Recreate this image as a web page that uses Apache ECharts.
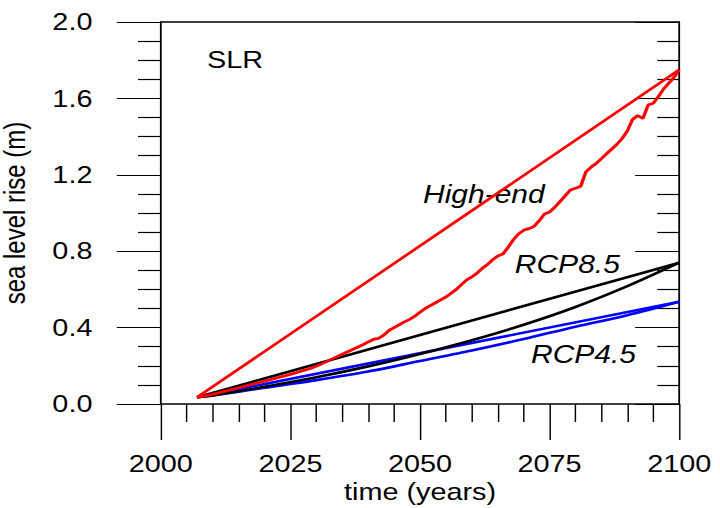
<!DOCTYPE html>
<html>
<head>
<meta charset="utf-8">
<script src="https://cdn.jsdelivr.net/npm/echarts@6/dist/echarts.min.js"></script>
<style>
html,body{margin:0;padding:0;background:#fff;overflow:hidden;}
#main{width:600px;height:508px;transform:scaleX(1.2);transform-origin:0 0;}
</style>
</head>
<body>
<div id="main"></div>
<script>
// ---- data ----
const xTicks = [2000, 2025, 2050, 2075, 2100];
const yTicks = [0.0, 0.4, 0.8, 1.2, 1.6, 2.0];

const highEndYears = [2007, 2100];
const highEnd = [0.035, 1.75];

const rcp85RedYears = [2007,2010,2015,2020,2025,2029,2031,2033,2035,2037,2039,2040,2041,2042,2043,2044,2045,2046,2047,2048,2049,2050,2051,2052,2053,2054,2055,2056,2057,2058,2059,2060,2061,2062,2063,2064,2065,2066,2067,2068,2069,2070,2071,2072,2073,2074,2075,2076,2077,2078,2079,2080,2081,2082,2083,2084,2085,2086,2087,2088,2089,2090,2091,2092,2093,2094,2095,2096,2097,2098,2099,2100];
const rcp85Red = [0.035,0.05,0.085,0.12,0.155,0.187,0.21,0.235,0.26,0.285,0.31,0.325,0.338,0.343,0.36,0.385,0.40,0.415,0.43,0.443,0.46,0.48,0.50,0.515,0.53,0.545,0.56,0.58,0.60,0.625,0.65,0.665,0.685,0.71,0.73,0.755,0.775,0.785,0.82,0.86,0.89,0.91,0.918,0.93,0.96,0.995,1.005,1.03,1.06,1.09,1.12,1.13,1.14,1.215,1.24,1.26,1.285,1.31,1.335,1.36,1.39,1.43,1.49,1.51,1.495,1.565,1.575,1.61,1.65,1.68,1.71,1.75];

const rcp85LinYears = [2007, 2100];
const rcp85Lin = [0.035, 0.74];
const rcp85CurveYears = [2007,2010,2020,2030,2040,2050,2060,2070,2080,2090,2100];
const rcp85Curve = [0.035,0.045,0.09,0.14,0.197,0.262,0.334,0.415,0.508,0.617,0.74];

const rcp45LinYears = [2007, 2100];
const rcp45Lin = [0.035, 0.535];
const rcp45CurveYears = [2007,2010,2020,2030,2040,2050,2060,2070,2080,2090,2100];
const rcp45Curve = [0.035,0.045,0.085,0.125,0.17,0.225,0.28,0.34,0.405,0.465,0.535];

function pairs(xs, ys){ return xs.map((x,i)=>[x, ys[i]]); }

const FONT = '"Liberation Sans", Arial, sans-serif';
const chart = echarts.init(document.getElementById('main'), null, {renderer:'svg'});

function line(name, xs, ys, color, w, smooth){
  return {type:'line', name, data: pairs(xs, ys), showSymbol:false, symbol:'none', smooth: smooth || false,
    lineStyle:{color, width:w}, itemStyle:{color}, animation:false, clip:true};
}

chart.setOption({
  animation:false,
  backgroundColor:'#fff',
  grid:{left:134, right:34, top:22, bottom:104, outerBoundsMode:'none', containLabel:false},
  xAxis:[{
    type:'value', position:'bottom', min:xTicks[0], max:xTicks[xTicks.length-1], interval:25,
    axisLine:{show:true, onZero:false, lineStyle:{color:'#000', width:1.5}},
    axisTick:{show:true, inside:false, length:36, lineStyle:{color:'#000', width:1.2}},
    minorTick:{show:true, splitNumber:5, length:18, lineStyle:{color:'#000', width:1.2}},
    axisLabel:{show:true, fontSize:24, color:'#000', fontFamily:FONT, margin:48, formatter:v=>String(v)},
    splitLine:{show:false}, minorSplitLine:{show:false},
    name:'time (years)', nameLocation:'middle', nameGap:76, nameMoveOverlap:false,
    nameTextStyle:{fontSize:24, color:'#000', fontFamily:FONT}
  },{
    type:'value', position:'top', min:2000, max:2100,
    axisLine:{show:true, onZero:false, lineStyle:{color:'#000', width:1.5}},
    axisTick:{show:false}, axisLabel:{show:false}, splitLine:{show:false}
  }],
  yAxis:[{
    type:'value', position:'left', min:yTicks[0], max:yTicks[yTicks.length-1], interval:0.4,
    axisLine:{show:true, onZero:false, lineStyle:{color:'#000', width:1.5}},
    axisTick:{show:true, inside:false, length:36.7, lineStyle:{color:'#000', width:1.2}},
    minorTick:{show:true, splitNumber:4, length:19, lineStyle:{color:'#000', width:1.2}},
    axisLabel:{show:true, fontSize:24, color:'#000', fontFamily:FONT, margin:57, formatter:v=>v.toFixed(1)},
    splitLine:{show:false}, minorSplitLine:{show:false},
    name:'sea level rise (m)', nameLocation:'middle', nameGap:109, nameRotate:90, nameMoveOverlap:false,
    nameTextStyle:{fontSize:24, color:'#000', fontFamily:FONT}
  },{
    type:'value', position:'right', min:0, max:2, interval:0.4,
    axisLine:{show:true, onZero:false, lineStyle:{color:'#000', width:1.5}},
    axisTick:{show:true, inside:true, length:36.7, lineStyle:{color:'#000', width:1.2}},
    minorTick:{show:true, splitNumber:4, length:18.3, lineStyle:{color:'#000', width:1.2}},
    axisLabel:{show:false}, splitLine:{show:false}, minorSplitLine:{show:false}
  }],
  series:[
    line('RCP4.5 lin', rcp45LinYears, rcp45Lin, '#0000ff', 2.6),
    line('RCP4.5 curve', rcp45CurveYears, rcp45Curve, '#0000ff', 2.6, 0.3),
    line('RCP8.5 lin', rcp85LinYears, rcp85Lin, '#000000', 2.6),
    line('RCP8.5 curve', rcp85CurveYears, rcp85Curve, '#000000', 2.6, 0.3),
    line('RCP8.5 red', rcp85RedYears, rcp85Red, '#ff0000', 2.8),
    line('High-end', highEndYears, highEnd, '#ff0000', 2.6)
  ],
  graphic:[
    {type:'text', x:172.5, y:60, style:{text:'SLR', fill:'#000', font:'24px '+FONT, verticalAlign:'middle'}},
    {type:'text', x:352.5, y:194.5, style:{text:'High-end', fill:'#000', font:'italic 25px '+FONT, verticalAlign:'middle'}},
    {type:'text', x:429, y:264.5, style:{text:'RCP8.5', fill:'#000', font:'italic 25px '+FONT, verticalAlign:'middle'}},
    {type:'text', x:442.5, y:354.5, style:{text:'RCP4.5', fill:'#000', font:'italic 25px '+FONT, verticalAlign:'middle'}}
  ]
});
</script>
</body>
</html>
